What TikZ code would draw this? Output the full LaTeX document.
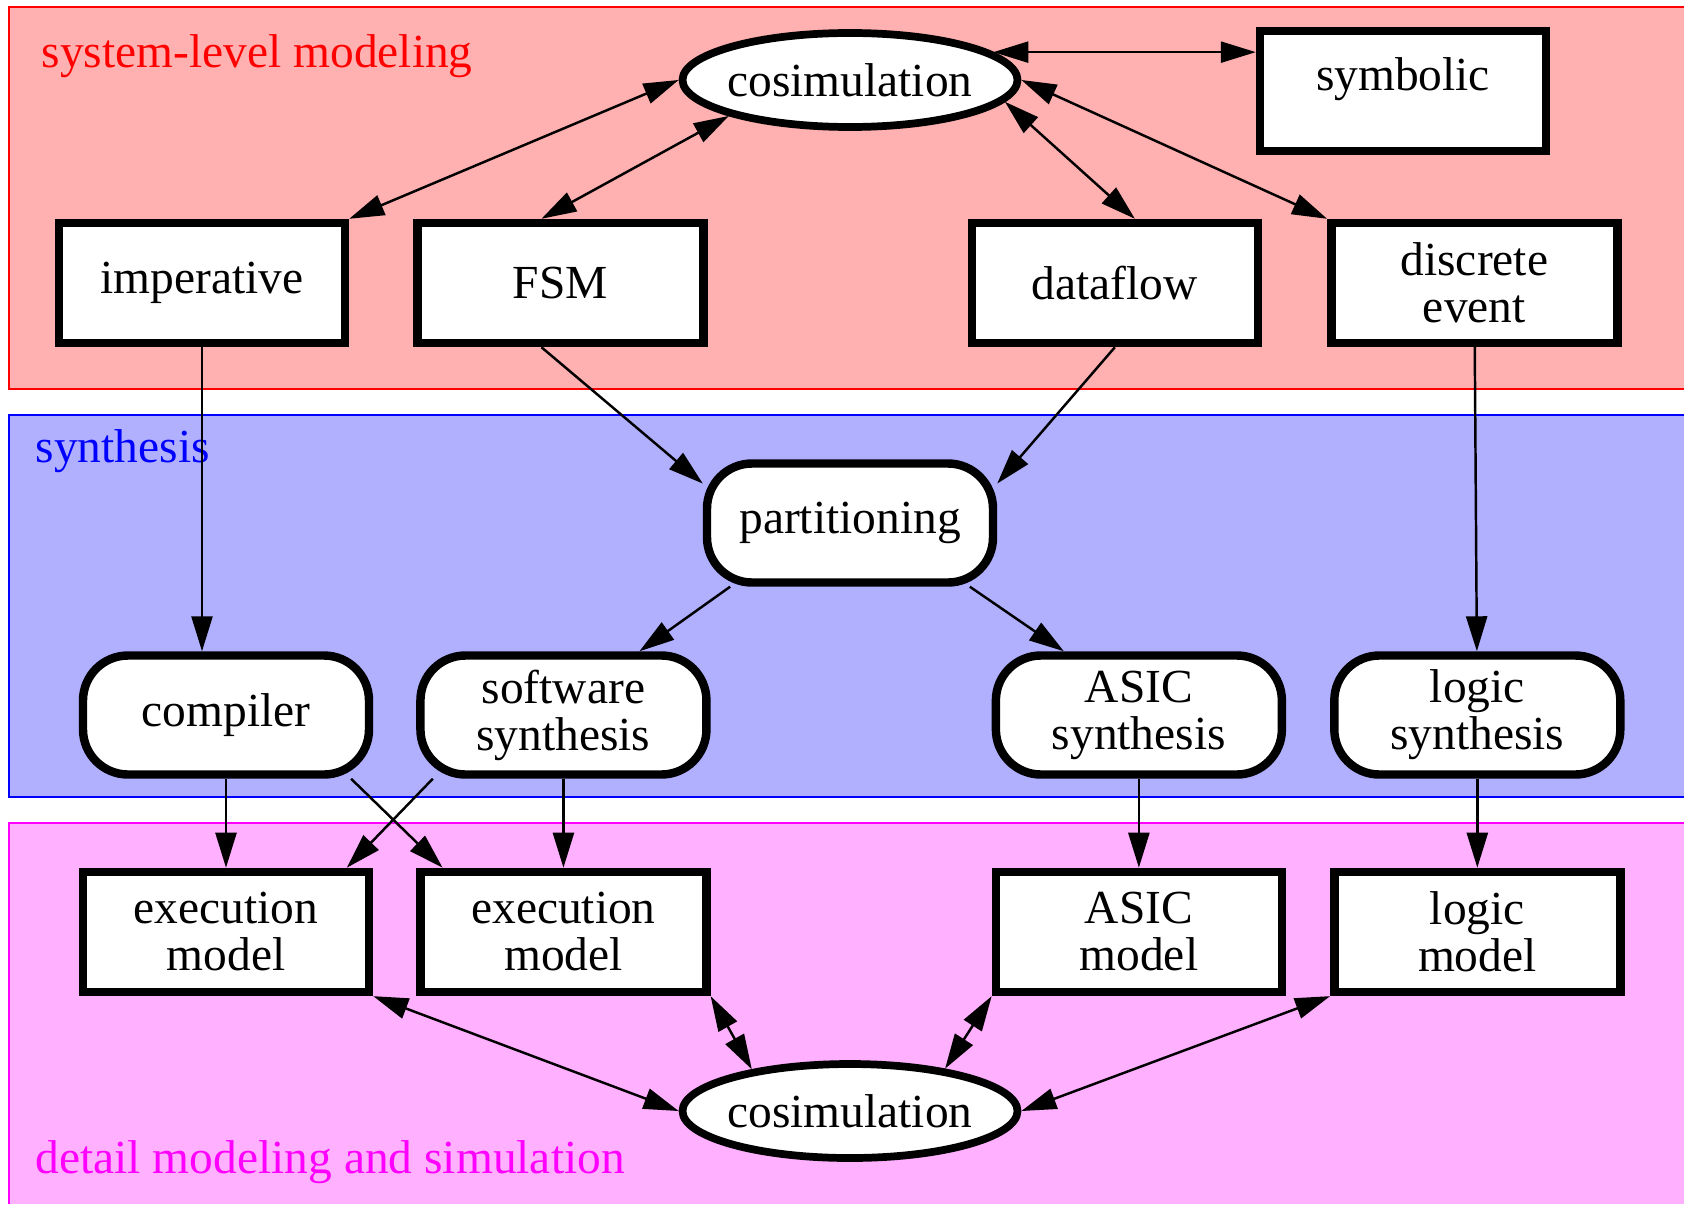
\documentclass[tikz,border=0pt]{standalone}
\usepackage{fontspec}
\setmainfont{Liberation Serif}
\usetikzlibrary{positioning,shapes.geometric,arrows.meta}
\definecolor{sysfill}{RGB}{255,176,176}
\definecolor{synfill}{RGB}{176,176,255}
\definecolor{detfill}{RGB}{255,176,255}
\definecolor{sysline}{RGB}{255,0,0}
\definecolor{synline}{RGB}{0,0,255}
\definecolor{detline}{RGB}{255,0,255}
\newcommand{\nodefont}{\fontsize{13.5pt}{13.4pt}\selectfont}
\tikzset{modelbox/.style={rectangle, draw=black, fill=white, line width=2.4pt, minimum width=2.86cm, minimum height=1.2cm, align=center, font=\nodefont},
toolbox/.style={rectangle, rounded corners=0.45cm, draw=black, fill=white, line width=2.4pt, minimum width=2.86cm, minimum height=1.19cm, align=center, font=\nodefont},
cosimnode/.style={ellipse, draw=black, fill=white, line width=2.2pt, minimum width=3.35cm, minimum height=0.94cm, inner xsep=-0.3cm, inner ysep=0pt, font=\nodefont},
bandlabel/.style={anchor=base west, inner sep=0pt, font=\nodefont},
link/.style={line width=0.7pt},}

\begin{document}
\begin{tikzpicture}[node distance=0.64cm, >={Triangle[length=0.35cm,width=0.21cm]}]
\useasboundingbox (0,0) rectangle (16.84,-12.04);
% layers
\fill[sysfill] (0.09,-0.07) rectangle (16.84,-3.89);
\draw[sysline, line width=0.8pt] (16.84,-0.07) -| (0.09,-3.89) -- (16.84,-3.89);
\fill[synfill] (0.09,-4.15) rectangle (16.84,-7.97);
\draw[synline, line width=0.8pt] (16.84,-4.15) -| (0.09,-7.97) -- (16.84,-7.97);
\fill[detfill] (0.09,-8.23) rectangle (16.84,-12.04);
\draw[detline, line width=0.8pt] (16.84,-8.23) -| (0.09,-12.04);
\node [bandlabel, text=sysline] (syslabel) at (0.41,-0.68) {system-level modeling};
\node [bandlabel, text=synline] (synlabel) at (0.35,-4.62) {synthesis};
\node [bandlabel, text=detline] (detlabel) at (0.35,-11.73) {detail modeling and simulation};

% system level
\node [cosimnode] (cosT) at (8.50,-0.80) {cosimulation};
\node [modelbox, text depth=0.34cm] (symb) at (14.03,-0.91) {symbolic};
\node [modelbox] (imp) at (2.02,-2.83) {imperative};
\node [modelbox] (fsm) [right=of imp] {FSM};
\node [modelbox] (dfl) [right=2.6cm of fsm] {dataflow};
\node [modelbox] (devt) [right=0.65cm of dfl] {discrete\\event};

% synthesis
\node [toolbox] (part) at (8.50,-5.23) {partitioning};
\node [toolbox] (comp) at (2.26,-7.15) {compiler};
\node [toolbox] (sw) [right=0.43cm of comp] {software\\synthesis};
\node [toolbox] (asyn) [right=2.81cm of sw] {ASIC\\synthesis};
\node [toolbox] (lsyn) [right=0.44cm of asyn] {logic\\synthesis};

% detail
\node [modelbox] (exe1) [below=0.89cm of comp] {execution\\model};
\node [modelbox] (exe2) [below=0.89cm of sw] {execution\\model};
\node [modelbox] (amod) [below=0.89cm of asyn] {ASIC\\model};
\node [modelbox] (lmod) [below=0.89cm of lsyn] {logic\\model};
\node [cosimnode] (cosB) at (8.50,-11.11) {cosimulation};

\draw[link, <->] (cosT.west) -- (imp.north east);
\draw[link, <->] (cosT.south west) -- ([xshift=-0.19cm]fsm.north);
\draw[link, <->] (cosT.-8) -- ([xshift=0.2cm]dfl.north);
\draw[link, <->] (cosT.east) -- (devt.north west);
\draw[link, <->] (cosT.11) -- (cosT.11 -| symb.west);

\draw[link, ->] ([xshift=-0.19cm]fsm.south) -- (part.165);
\draw[link, ->] (dfl.south) -- (part.15);
\draw[link, ->] (part.208) -- ([xshift=0.76cm]sw.north);
\draw[link, ->] (part.-28) -- ([xshift=-0.75cm]asyn.north);
\draw[link, ->] (imp.south) -- (imp.south |- comp.north);
\draw[link, ->] (devt) -- (lsyn);

\draw[link, ->] (comp) -- (exe1);
\draw[link, ->] (comp.-27) -- (exe2.152);
\draw[link, ->] (sw.206) -- (exe1.28);
\draw[link, ->] (sw) -- (exe2);
\draw[link, ->] (asyn) -- (amod);
\draw[link, ->] (lsyn) -- (lmod);

\draw[link, <->] (exe1.south east) -- (cosB.west);
\draw[link, <->] (exe2.south east) -- (cosB.157);
\draw[link, <->] (amod.south west) -- (cosB.24);
\draw[link, <->] (lmod.south west) -- (cosB.east);
\end{tikzpicture}
\end{document}
